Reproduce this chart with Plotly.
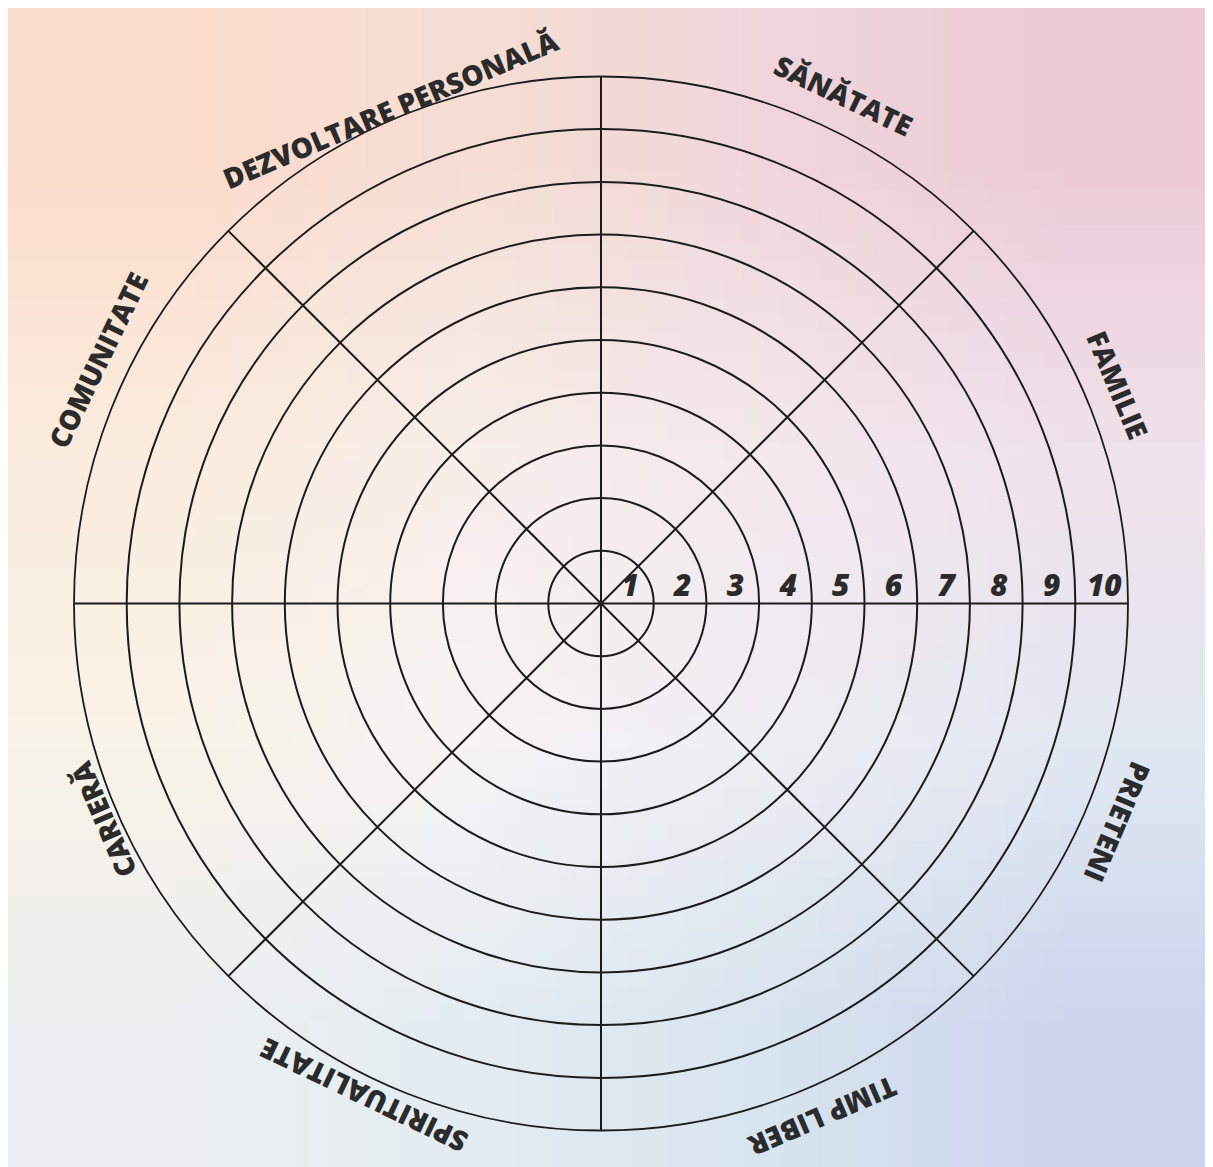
import base64
import math
import struct
import zlib

import plotly.graph_objects as go

# ---------------- data ----------------
categories = ["SĂNĂTATE", "FAMILIE", "PRIETENI", "TIMP LIBER",
              "SPIRITUALITATE", "CARIERĂ", "COMUNITATE", "DEZVOLTARE PERSONALĂ"]
scale_values = [1, 2, 3, 4, 5, 6, 7, 8, 9, 10]
scale_labels = ["1", "2", "3", "4", "5", "6", "7", "8", "9", "10"]
spoke_angles = [0, 45, 90, 135, 180, 225, 270, 315]

# label placement (style): angle in degrees, radius in scale units
label_theta = [64.5, 22.9, -22.9, -66.7, -115.7, -156.6, 154.2, 113.0]
label_radius = [10.68, 10.65, 10.65, 10.62, 10.36, 10.3, 10.6, 10.2]

# ---------------- layout constants ----------------
W, H = 1205, 1159           # page has an 8px body margin
CX, CY, R = 593, 595.5, 527  # pixel centre / radius of the wheel (figure coords)
dom_x = [(CX - R) / W, (CX + R) / W]
dom_y = [(H - CY - R) / H, (H - CY + R) / H]
LINE = "#1c1c1c"


# soft pastel background as a tiny stretched PNG
def png_uri(grid):
    h = len(grid)
    w = len(grid[0])
    raw = b"".join(b"\x00" + bytes([c for px in row for c in px]) for row in grid)

    def chunk(tag, data):
        return (struct.pack(">I", len(data)) + tag + data +
                struct.pack(">I", zlib.crc32(tag + data) & 0xFFFFFFFF))

    png = (b"\x89PNG\r\n\x1a\n" +
           chunk(b"IHDR", struct.pack(">IIBBBBB", w, h, 8, 2, 0, 0, 0)) +
           chunk(b"IDAT", zlib.compress(raw)) + chunk(b"IEND", b""))
    return "data:image/png;base64," + base64.b64encode(png).decode()


bg_grid = [
    [(252, 220, 205), (246, 222, 212), (240, 214, 220), (236, 202, 214)],
    [(251, 236, 222), (248, 238, 234), (244, 232, 236), (240, 226, 234)],
    [(248, 243, 232), (246, 244, 244), (238, 238, 242), (226, 232, 242)],
    [(236, 240, 240), (228, 236, 242), (216, 228, 240), (205, 212, 238)],
]

fig = go.Figure()

# scale numbers along the right-hand spoke
fig.add_trace(go.Scatterpolar(
    r=[v - 0.45 for v in scale_values],
    theta=[0] * len(scale_values),
    mode="text",
    text=scale_labels,
    textposition="top center",
    textfont=dict(family="Open Sans", size=30, color="#2a2a2a",
                  weight=800, style="italic"),
    hoverinfo="skip",
    showlegend=False,
))

annotations = []
for name, th, rr in zip(categories, label_theta, label_radius):
    px = CX + rr * (R / 10) * math.cos(math.radians(th))
    py = CY - rr * (R / 10) * math.sin(math.radians(th))
    annotations.append(dict(
        x=px / W, y=1 - py / H, xref="paper", yref="paper",
        text=name, showarrow=False, textangle=90 - th,
        xanchor="center", yanchor="middle",
        font=dict(family="Open Sans", size=28, color="#2b2b2b", weight=800),
    ))

fig.update_layout(
    width=W, height=H,
    margin=dict(l=0, r=0, t=0, b=0),
    paper_bgcolor="#f6f1ee",
    plot_bgcolor="rgba(0,0,0,0)",
    showlegend=False,
    images=[dict(source=png_uri(bg_grid), xref="paper", yref="paper",
                 x=0, y=1, sizex=1, sizey=1, sizing="stretch",
                 xanchor="left", yanchor="top", layer="below")],
    polar=dict(
        domain=dict(x=dom_x, y=dom_y),
        bgcolor="rgba(0,0,0,0)",
        radialaxis=dict(range=[0, 10], tickvals=scale_values,
                        showticklabels=False, ticks="", showline=False,
                        gridcolor=LINE, gridwidth=1.8),
        angularaxis=dict(tickvals=spoke_angles, showticklabels=False,
                         ticks="", direction="counterclockwise", rotation=0,
                         gridcolor=LINE, gridwidth=1.8,
                         showline=True, linecolor=LINE, linewidth=1.8),
    ),
    annotations=annotations,
)

fig.write_html("out.html")
